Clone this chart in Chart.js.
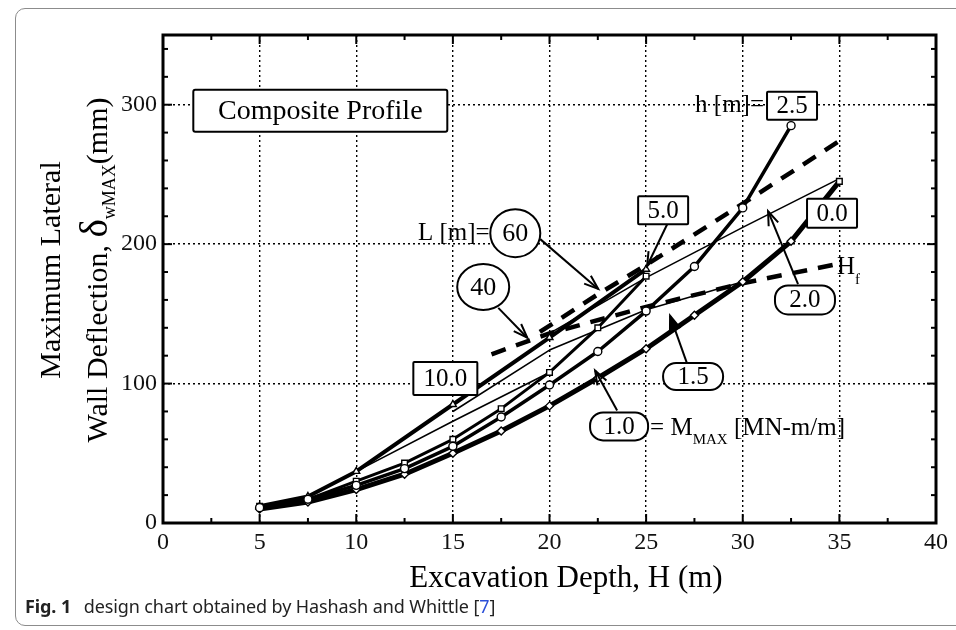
<!DOCTYPE html>
<html>
<head>
<meta charset="utf-8">
<script src="https://cdn.jsdelivr.net/npm/chart.js@4.4.1/dist/chart.umd.min.js"></script>
<style>
  html, body { margin: 0; padding: 0; background: #fff; }
  #wrap { position: relative; width: 956px; height: 630px; overflow: hidden; }
  #frame { position: absolute; left: 15px; top: 8px; width: 1000px; height: 616px;
           border: 1.5px solid #8c8c8c; border-radius: 10px; }
  #c { position: absolute; left: 0; top: 0; }
  #cap { position: absolute; left: 25px; top: 594px; font-family: 'Noto Sans', sans-serif;
         font-size: 18px; color: #222; white-space: nowrap; letter-spacing: -0.1px; }
  #cap b { margin-right: 8px; }
  #cap span { color: #2b4fd8; }
</style>
</head>
<body>
<div id="wrap">
  <div id="frame"></div>
  <canvas id="c" width="956" height="630"></canvas>
  <div id="cap"><b>Fig. 1</b> design chart obtained by Hashash and Whittle [<span>7</span>]</div>
</div>
<script>
// wall deflection (mm) against excavation depth H (m), one pair of arrays per curve
const depthH25 = [5, 7.5, 10, 12.5, 15, 17.5, 20, 22.5, 25, 27.5, 30, 32.5]
const deflH25  = [11, 17, 27, 39, 55, 76, 99, 123, 152, 184, 226, 285]
const depthH00 = [5, 7.5, 10, 12.5, 15, 17.5, 20, 22.5, 25, 27.5, 30, 32.5, 35]
const deflH00  = [10, 15, 24, 35, 50, 66, 84, 104, 125, 149, 173, 202, 245]
const depthH10 = [5, 7.5, 10, 15, 20, 25]
const deflH10  = [12, 19, 37, 85, 133, 182]
const depthH50 = [5, 7.5, 10, 12.5, 15, 17.5, 20, 22.5, 25]
const deflH50  = [12, 17, 30, 43, 60, 82, 108, 140, 177]
const depthM20 = [20, 25, 30, 35]
const deflM20  = [136, 176, 212, 247]
const depthM15 = [15, 20, 25, 30]
const deflM15  = [80, 124, 153, 173]
const depthM10 = [10, 15, 20]
const deflM10  = [37, 73, 108]
const depthL60 = [19.5, 22.5, 25, 30, 35]
const deflL60  = [137, 164, 185, 229, 274]
const depthHf  = [17, 20, 25, 30, 35]
const deflHf   = [121, 136, 155, 172, 186]

const xTicks = [0, 5, 10, 15, 20, 25, 30, 35, 40]
const yTicks = [0, 100, 200, 300]

const serif = "'Liberation Serif', 'DejaVu Serif', serif"

const pts = (xs, ys) => xs.map((x, i) => ({ x, y: ys[i] }))

function series(xs, ys, width, marker, extra) {
  return Object.assign({
    data: pts(xs, ys),
    borderColor: '#000',
    borderWidth: width,
    backgroundColor: '#fff',
    pointBorderColor: '#000',
    pointBackgroundColor: '#fff',
    pointBorderWidth: 1.4,
    pointStyle: marker || false,
    pointRadius: marker ? 4 : 0,
    showLine: true,
    tension: 0,
    borderJoinStyle: 'round',
    borderCapStyle: 'butt'
  }, extra || {})
}

const datasets = [
  series(depthH25, deflH25, 3.5, 'circle'),
  series(depthH00, deflH00, 5, depthH00.map((d, i) => i === depthH00.length - 1 ? 'rect' : 'rectRot')),
  series(depthH10, deflH10, 4, 'triangle'),
  series(depthH50, deflH50, 3, 'rect'),
  series(depthM20, deflM20, 1.6, false),
  series(depthM15, deflM15, 1.6, false),
  series(depthM10, deflM10, 1.6, false),
  series(depthL60, deflL60, 4.5, false, { borderDash: [15, 11] }),
  series(depthHf, deflHf, 4.5, false, { borderDash: [15, 11] })
]

function line(ctx, x1, y1, x2, y2) {
  ctx.beginPath(); ctx.moveTo(x1, y1); ctx.lineTo(x2, y2); ctx.stroke()
}

function rrect(ctx, x, y, w, h, r) {
  ctx.beginPath()
  ctx.moveTo(x + r, y)
  ctx.lineTo(x + w - r, y); ctx.arc(x + w - r, y + r, r, -Math.PI / 2, 0)
  ctx.lineTo(x + w, y + h - r); ctx.arc(x + w - r, y + h - r, r, 0, Math.PI / 2)
  ctx.lineTo(x + r, y + h); ctx.arc(x + r, y + h - r, r, Math.PI / 2, Math.PI)
  ctx.lineTo(x, y + r); ctx.arc(x + r, y + r, r, Math.PI, Math.PI * 1.5)
  ctx.closePath()
}

function labelBox(ctx, cx, cy, text, w, h, r, size) {
  ctx.save()
  ctx.lineWidth = 2
  rrect(ctx, cx - w / 2, cy - h / 2, w, h, r)
  ctx.fillStyle = '#fff'; ctx.fill(); ctx.stroke()
  ctx.fillStyle = '#000'
  ctx.font = size + 'px ' + serif
  ctx.textAlign = 'center'; ctx.textBaseline = 'middle'
  ctx.fillText(text, cx, cy + 1)
  ctx.restore()
}

function labelOval(ctx, cx, cy, text, rx, ry) {
  ctx.save()
  ctx.lineWidth = 2
  ctx.beginPath(); ctx.ellipse(cx, cy, rx, ry, 0, 0, Math.PI * 2)
  ctx.fillStyle = '#fff'; ctx.fill(); ctx.stroke()
  ctx.fillStyle = '#000'
  ctx.font = '26px ' + serif
  ctx.textAlign = 'center'; ctx.textBaseline = 'middle'
  ctx.fillText(text, cx, cy + 1)
  ctx.restore()
}

function arrow(ctx, x1, y1, x2, y2, filled) {
  ctx.save()
  ctx.lineWidth = 2
  line(ctx, x1, y1, x2, y2)
  const ang = Math.atan2(y2 - y1, x2 - x1), len = 15, spread = 0.35
  const ax = x2 - len * Math.cos(ang - spread), ay = y2 - len * Math.sin(ang - spread)
  const bx = x2 - len * Math.cos(ang + spread), by = y2 - len * Math.sin(ang + spread)
  ctx.beginPath(); ctx.moveTo(ax, ay); ctx.lineTo(x2, y2); ctx.lineTo(bx, by)
  if (filled) { ctx.closePath(); ctx.fill() }
  ctx.stroke()
  ctx.restore()
}

// draw text runs in sequence: [text, fontSize, baselineShift]
function runs(ctx, x, y, parts) {
  let cx = x
  for (const [t, s, dy] of parts) {
    ctx.font = s + 'px ' + serif
    ctx.fillText(t, cx, y + (dy || 0))
    cx += ctx.measureText(t).width
  }
  return cx - x
}
function runsWidth(ctx, parts) {
  let w = 0
  for (const [t, s] of parts) { ctx.font = s + 'px ' + serif; w += ctx.measureText(t).width }
  return w
}

const decor = {
  id: 'decor',
  afterDraw(chart) {
    const { ctx, chartArea: a, scales: { x, y } } = chart
    const X = v => x.getPixelForValue(v), Y = v => y.getPixelForValue(v)
    ctx.save()
    ctx.strokeStyle = '#000'; ctx.fillStyle = '#000'

    // boxed and circled labels, arrows
    labelBox(ctx, X(8.14), Y(295.7), 'Composite Profile', 254, 42, 2, 28)

    ctx.font = '25px ' + serif; ctx.textAlign = 'right'; ctx.textBaseline = 'middle'
    ctx.fillText('h [m]=', X(31.1), Y(299.3))
    labelBox(ctx, X(32.55), Y(299.3), '2.5', 50, 28, 1, 25)
    labelBox(ctx, X(25.88), Y(224.3), '5.0', 50, 28, 1, 25)
    labelBox(ctx, X(34.62), Y(222.1), '0.0', 50, 29, 1, 25)
    labelBox(ctx, X(14.61), Y(103.6), '10.0', 64, 33, 1, 25)

    arrow(ctx, X(26.09), Y(214.3), X(25.05), Y(184.3))
    arrow(ctx, X(19.52), Y(203.6), X(22.52), Y(167.9))
    arrow(ctx, X(17.35), Y(154.3), X(18.85), Y(132.9))
    arrow(ctx, X(32.86), Y(171.4), X(31.31), Y(223.6))
    arrow(ctx, X(27.12), Y(114.3), X(26.24), Y(148.6), true)
    arrow(ctx, X(23.5), Y(80.7), X(22.36), Y(109.3))

    ctx.font = '25px ' + serif; ctx.textAlign = 'right'; ctx.textBaseline = 'middle'
    ctx.fillText('L [m]=', X(16.9), Y(207.9))
    labelOval(ctx, X(18.23), Y(207.9), '60', 25, 24)
    labelOval(ctx, X(16.57), Y(169.3), '40', 26, 23)

    labelBox(ctx, X(33.22), Y(160), '2.0', 60, 29, 13, 25)
    labelBox(ctx, X(27.43), Y(105), '1.5', 60, 27, 13, 25)
    labelBox(ctx, X(23.6), Y(69.3), '1.0', 58, 28, 13, 25)

    ctx.textAlign = 'left'; ctx.textBaseline = 'alphabetic'
    runs(ctx, X(23.6) + 31, Y(69.3) + 9, [['= M', 25], ['MAX', 15, 9], [' [MN-m/m]', 25]])
    runs(ctx, X(34.88), Y(185) + 9, [['H', 25], ['f', 15, 10]])

    // frame and inward ticks on all four sides
    ctx.lineWidth = 3
    ctx.strokeRect(a.left, a.top, a.right - a.left, a.bottom - a.top)
    ctx.lineWidth = 2
    for (let v = 0; v <= 40; v += 2.5) {
      const len = v % 5 === 0 ? 9 : 5, px = X(v)
      line(ctx, px, a.bottom, px, a.bottom - len)
      line(ctx, px, a.top, px, a.top + len)
    }
    for (let v = 0; v <= 340; v += 20) {
      const len = v % 100 === 0 ? 9 : 5, py = Y(v)
      line(ctx, a.left, py, a.left + len, py)
      line(ctx, a.right, py, a.right - len, py)
    }

    // axis titles
    ctx.font = '31px ' + serif; ctx.textAlign = 'center'; ctx.textBaseline = 'middle'
    ctx.fillText('Excavation Depth, H (m)', 566, 579)

    ctx.font = '30px ' + serif
    ctx.save()
    ctx.translate(52, 270); ctx.rotate(-Math.PI / 2)
    ctx.fillText('Maximum Lateral', 0, 0)
    ctx.restore()

    ctx.save()
    ctx.translate(97, 270); ctx.rotate(-Math.PI / 2)
    ctx.textAlign = 'left'; ctx.textBaseline = 'alphabetic'
    const parts = [['Wall Deflection, ', 30], ['\u03B4', 39], ['wMAX', 18, 8], ['(mm)', 30]]
    runs(ctx, -runsWidth(ctx, parts) / 2, 10, parts)
    ctx.restore()

    ctx.restore()
  }
}

new Chart(document.getElementById('c'), {
  type: 'scatter',
  data: { datasets },
  options: {
    responsive: false,
    animation: false,
    layout: { padding: { top: 35, right: 20, left: 0, bottom: 0 } },
    plugins: { legend: { display: false }, tooltip: { enabled: false } },
    scales: {
      x: {
        type: 'linear', min: 0, max: 40,
        afterBuildTicks: s => { s.ticks = xTicks.map(v => ({ value: v })) },
        afterFit: s => { s.height = 107 },
        grid: { color: '#000', lineWidth: 1.4, drawTicks: false },
        border: { display: false, dash: [2, 3] },
        ticks: { color: '#111', padding: 5, font: { family: serif, size: 24 } }
      },
      y: {
        type: 'linear', min: 0, max: 350,
        afterBuildTicks: s => { s.ticks = yTicks.map(v => ({ value: v })) },
        afterFit: s => { s.width = 163 },
        grid: { color: '#000', lineWidth: 1.4, drawTicks: false },
        border: { display: false, dash: [2, 3] },
        ticks: { color: '#111', padding: 6, font: { family: serif, size: 24 } }
      }
    }
  },
  plugins: [decor]
})
</script>
</body>
</html>
